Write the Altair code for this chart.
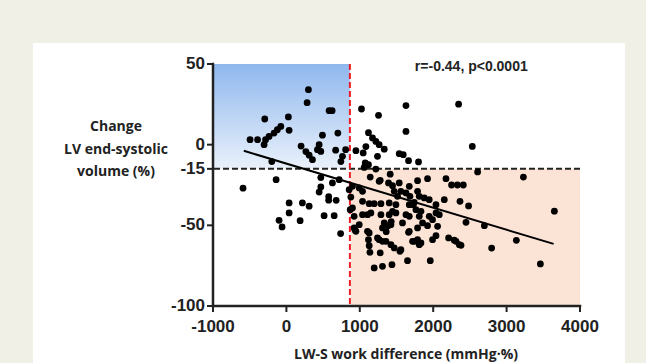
import altair as alt
import pandas as pd

# scatter values
x_vals = [
    -591, -495, -393, -304, -284, -236, -168, -123, -76, 37, -295, 27, -199, -140,
    300, 282, 582, 623, 200, 265, 310, 355, 423, 469, 446, 491, 701, 671, 807, 764,
    742, 469, 627, 719, 469, 446, 576, 576, 678, 514, 651, 739, 37, 37, 218, 310,
    -100, -59, 187,
    947, 1023, 1255, 1629, 2346, 1629, 2533, 1118, 1173, 1219, 1264, 1333, 1241, 1083,
    1046, 1537, 1592, 1664, 1800, 1118, 1060, 1219, 1414, 1142, 1278, 1923, 2174, 2250,
    2330, 2410, 1446, 2605, 3229, 2365, 2482, 3651, 2447, 2697, 3133, 2379, 2796, 3460,
    2151, 1946, 1960, 1650, 1438, 1309, 1196, 1278, 1138, 1128, 1547, 1469, 1424, 1309,
    1264, 1118, 1128, 1664, 1742, 1810, 1991, 2038, 2210, 2287, 1923, 1855, 1787, 1582,
    1424, 1309, 1360, 947, 923, 869, 900, 878, 855, 1037, 1105, 1151, 923, 1401, 1492,
    1674, 1810, 1946, 1765, 1833, 2038, 1674, 1728, 1401, 1288, 1037, 1128, 1196, 1878,
    2038, 992, 1037, 900, 1264, 1469, 1514, 1560, 1629, 1683, 1787, 1810, 1492, 1742,
    1288, 1446, 1629, 2083, 992, 1105, 1333, 1387, 1428, 1674, 1991, 2060, 1241, 1356,
    1560, 1719, 1787, 1833, 2311, 2356, 1537, 1674, 1787, 1391, 1074, 937,
]
y_vals = [
    -27.0, 3.1, 3.1, 0.0, 3.1, 5.1, 7.2, 9.3, 11.3, 8.9, 15.9, 17.2, -10.5, -21.7,
    34.1, 26.0, 21.1, 21.1, -0.9, -4.3, -6.5, -9.3, -3.1, -4.2, 0.0, 5.9, 7.2, -3.4, -3.1, -7.2,
    -10.5, -20.4, -23.7, -21.7, -26.2, -29.4, -32.2, -34.4, -34.5, -44.0, -44.0, -55.1, -36.1, -42.3, -36.1, -38.1,
    -46.9, -51.0, -47.1,
    -3.7, 22.1, 18.2, 24.2, 25.1, 8.2, -1.1, 7.4, 4.2, 2.0, 0.0, -2.8, -7.2, -1.2,
    -5.1, -5.6, -6.2, -9.9, -10.7, -12.4, -14.1, -15.1, -18.3, -20.1, -22.1, -21.1, -21.1, -25.0,
    -25.0, -25.0, -25.4, -16.9, -20.1, -35.1, -38.0, -41.2, -48.1, -50.2, -59.3, -62.4, -64.1, -73.9,
    -34.1, -34.1, -71.9, -71.9, -74.4, -75.4, -76.4, -67.1, -66.7, -62.6, -66.1, -64.0, -62.0, -59.9,
    -58.9, -58.9, -54.7, -54.3, -59.9, -62.0, -58.9, -56.4, -57.8, -59.2, -50.2, -48.5, -51.6, -48.5,
    -49.6, -51.6, -53.9, -53.7, -51.6, -40.3, -39.2, -32.5, -27.9, -43.4, -43.4, -42.3, -44.4, -43.4, -42.3,
    -44.4, -44.4, -44.4, -40.3, -41.3, -42.3, -37.2, -37.2, -36.1, -36.6, -35.1, -36.6, -36.6, -33.0,
    -37.2, -26.8, -28.9, -25.8, -22.7, -28.9, -32.0, -28.9, -29.9, -32.0, -28.9, -32.0, -37.2, -35.8,
    -43.4, -41.3, -43.4, -43.4, -49.6, -53.7, -48.5, -50.2, -47.7, -53.7, -46.5, -50.6, -57.8, -59.9,
    -65.1, -59.9, -58.9, -60.9, -59.9, -62.0, -23.7, -25.8, -22.3, -23.7, -11.3, -53.1,
]

# fitted line end points
fit_x = [-580, 3640]
fit_y = [-3.8, -61.5]

# thresholds and shaded regions
x_cut = 865
y_cut = -15
blue_box = {"x": [-1000], "x2": [865], "y": [-15], "y2": [50]}
orange_box = {"x": [880], "x2": [4000], "y": [-100], "y2": [-15]}

# annotation
note_text = ["r=-0.44, p<0.0001"]
note_x = [2519]
note_y = [48.3]

# axes: ticks, labels, titles
x_ticks = [-1000, 0, 1000, 2000, 3000, 4000]
x_tick_labels = ["-1000", "0", "1000", "2000", "3000", "4000"]
y_ticks = [50, 0, -15, -50, -100]
y_tick_labels = ["50", "0", "-15", "-50", "-100"]
x_title = "LW-S work difference (mmHg·%)"
y_title = ["Change", "LV end-systolic", "volume (%)"]
x_axis_line = {"x": [-1000], "x2": [4000], "y": [-100]}
y_axis_line = {"x": [-1000], "y": [-100], "y2": [50]}

# white card behind the figure (in axis units, extends past the plot)
card = {"x": [-3452], "x2": [4613], "y": [-136], "y2": [63]}

pts = pd.DataFrame({"x": x_vals, "y": y_vals})
fit = pd.DataFrame({"x": fit_x, "y": fit_y})
note = pd.DataFrame({"x": note_x, "y": note_y, "t": note_text})
xt = pd.DataFrame({"x": x_ticks, "lab": x_tick_labels})
yt = pd.DataFrame({"y": y_ticks, "lab": y_tick_labels})

xs = alt.Scale(domain=[-1000, 4000], nice=False, zero=False)
ys = alt.Scale(domain=[-100, 50], nice=False, zero=False)
Xn = alt.X("x:Q", scale=xs, axis=None)
Yn = alt.Y("y:Q", scale=ys, axis=None)

INK = "#222222"

card_layer = alt.Chart(pd.DataFrame(card)).mark_rect(color="white").encode(
    x=Xn, x2="x2", y=Yn, y2="y2")

blue = alt.Chart(pd.DataFrame(blue_box)).mark_rect(
    color={"gradient": "linear", "x1": 0, "y1": 0, "x2": 0, "y2": 1,
           "stops": [{"offset": 0, "color": "#8fb8ee"},
                     {"offset": 1, "color": "#eaf1fb"}]}).encode(
    x=Xn, x2="x2", y=Yn, y2="y2")

orange = alt.Chart(pd.DataFrame(orange_box)).mark_rect(color="#fbe4d6").encode(
    x=Xn, x2="x2", y=Yn, y2="y2")

hline = alt.Chart(pd.DataFrame({"y": [y_cut]})).mark_rule(
    color=INK, strokeWidth=2, strokeDash=[6, 3]).encode(y=Yn)

vline = alt.Chart(pd.DataFrame({"x": [x_cut]})).mark_rule(
    color="#ee1c25", strokeWidth=2, strokeDash=[6, 3]).encode(x=Xn)

dots = alt.Chart(pts).mark_circle(size=46, color="black", opacity=1).encode(x=Xn, y=Yn)

line = alt.Chart(fit).mark_line(color="black", strokeWidth=2).encode(x=Xn, y=Yn)

label = alt.Chart(note).mark_text(
    font="Liberation Sans", fontWeight="bold", fontSize=14, color=INK,
    align="center", baseline="middle").encode(text="t:N", x=Xn, y=Yn)

# axis lines
x_dom = alt.Chart(pd.DataFrame(x_axis_line)).mark_rule(
    color=INK, strokeWidth=2.5, strokeCap="square").encode(x=Xn, x2="x2", y=Yn)
y_dom = alt.Chart(pd.DataFrame(y_axis_line)).mark_rule(
    color=INK, strokeWidth=2.5, strokeCap="square").encode(x=Xn, y=Yn, y2="y2")

# ticks
x_tk = alt.Chart(xt).mark_rule(color=INK, strokeWidth=2).encode(
    x=Xn, y=alt.value(242), y2=alt.value(248))
y_tk = alt.Chart(yt).mark_rule(color=INK, strokeWidth=2).encode(
    y=Yn, x=alt.value(-6), x2=alt.value(0))

# tick labels
x_lb = alt.Chart(xt).mark_text(
    font="Liberation Sans", fontWeight="bold", fontSize=17, color=INK,
    align="center", baseline="middle").encode(x=Xn, y=alt.value(263), text="lab:N")
y_lb = alt.Chart(yt).mark_text(
    font="Liberation Sans", fontWeight="bold", fontSize=17, color=INK,
    align="right", baseline="middle").encode(y=Yn, x=alt.value(-8), text="lab:N")

# axis titles
x_tt = alt.Chart(pd.DataFrame({"t": [x_title]})).mark_text(
    font="Open Sans", fontWeight="bold", fontSize=14, color=INK,
    align="center", baseline="alphabetic").encode(
    x=alt.value(193), y=alt.value(295), text="t:N")
y_tt = alt.Chart(pd.DataFrame({"a": [0]})).mark_text(
    font="Open Sans", fontWeight="bold", fontSize=14, color=INK,
    align="center", baseline="alphabetic", lineHeight=22.5).encode(
    x=alt.value(-97), y=alt.value(67), text=alt.value(y_title))

chart = alt.layer(
    card_layer, blue, orange, hline, vline, dots, line, label,
    x_dom, y_dom, x_tk, y_tk, x_lb, y_lb, x_tt, y_tt,
).properties(
    width=367, height=242,
    autosize=alt.AutoSizeParams(type="none"),
    padding={"left": 213, "top": 64, "right": 66, "bottom": 57},
    background="#f0f0e6",
).configure_view(stroke=None)

chart.save("out.html", embed_options={"renderer": "svg", "actions": False})
